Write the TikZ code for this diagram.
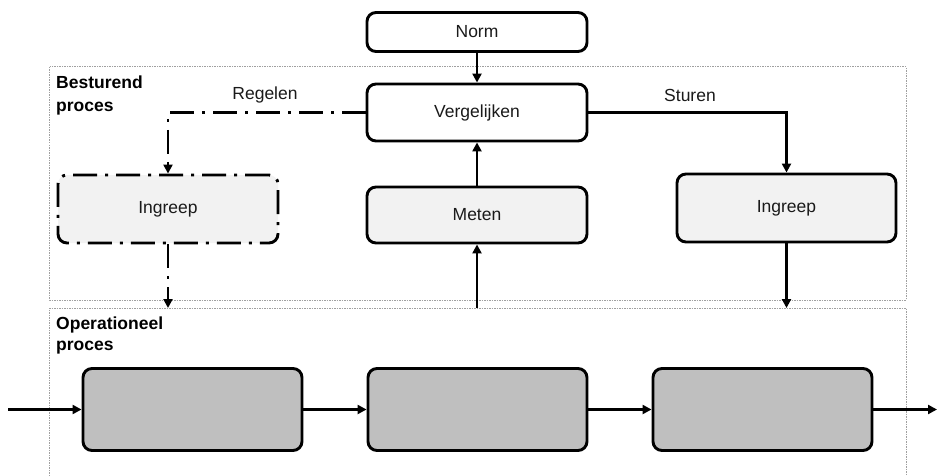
\documentclass[tikz,border=0pt]{standalone}
\usepackage{fontspec}
\setmainfont{Liberation Sans}
\usetikzlibrary{arrows.meta}
\definecolor{boxfill}{HTML}{F2F2F2}
\definecolor{opfill}{HTML}{BFBFBF}
\definecolor{framegray}{HTML}{A0A0A0}
\definecolor{txt}{HTML}{1A1A1A}
\begin{document}
\begin{tikzpicture}[x=1pt,y=-1pt,
  every node/.style={font=\fontsize{17.5}{21}\selectfont, text=txt},
  blockbox/.style={draw=black, line width=2.9pt, rounded corners=9pt, inner sep=0pt},
  lightbox/.style={blockbox, fill=boxfill},
  opbox/.style={blockbox, fill=opfill, minimum width=219pt, minimum height=82pt},
  framebox/.style={draw=framegray, line width=1pt, dash pattern=on 1.5pt off 1pt},
  flow/.style={draw=black, line width=2.5pt, -{Triangle[length=9pt,width=9pt]}},
  dashdotline/.style={dash pattern=on 24pt off 8pt on 3pt off 8pt},
  framelabel/.style={font=\fontsize{17.5}{21}\selectfont\bfseries, anchor=base west, inner sep=0pt, text=black},
  edgelabel/.style={inner sep=0pt}
]
\useasboundingbox (0,0) rectangle (937,476);
\fill[white] (0,0) rectangle (937,476);

% process frames
\draw[framebox] (49.5,67) rectangle (906,300);
\draw[framebox] (49.5,476) -- (49.5,308) -- (906,308) -- (906,476);
\node[framelabel] (lbB1) at (56,89) {Besturend};
\node[framelabel] (lbB2) at (56,112) {proces};
\node[framelabel] (lbO1) at (56,329) {Operationeel};
\node[framelabel] (lbO2) at (56,350) {proces};

% steering process
\node[blockbox, minimum width=220pt, minimum height=39pt] (norm) at (477,32) {Norm};
\node[blockbox, minimum width=220pt, minimum height=57pt] (verg) at (477,112.5) {Vergelijken};
\node[lightbox, minimum width=220pt, minimum height=56pt] (meten) at (477,215) {Meten};
\node[lightbox, minimum width=219pt, minimum height=68pt] (ingR) at (786.5,208) {Ingreep};
\node[lightbox, minimum width=220pt, minimum height=68pt, dashdotline] (ingL) at (168,209) {Ingreep};

% operational process
\node[opbox] (op1) at (192.5,409.5) {};
\node[opbox] (op2) at (477.5,409.5) {};
\node[opbox] (op3) at (762.5,409.5) {};

\coordinate (opInL) at (168,308);
\coordinate (opOut) at (477,308);
\coordinate (opInR) at (786.5,308);
\coordinate (src) at (8,409.5);
\coordinate (snk) at (937,409.5);

% connectors
\draw[flow] (norm) -- (verg);
\draw[flow] (meten) -- (verg);
\draw[flow] (opOut) -- (meten);
\draw[flow] (verg.east) -| (ingR.north);
\draw[flow] (ingR) -- (opInR);
\draw[flow, dashdotline] (verg.west) -| (ingL.north);
\draw[flow, dashdotline] (ingL) -- (opInL);
\draw[flow] (src) -- (op1);
\draw[flow] (op1) -- (op2);
\draw[flow] (op2) -- (op3);
\draw[flow] (op3) -- (snk);

\node[edgelabel] (regelen) at (265,95) {Regelen};
\node[edgelabel] (sturen) at (690,95) {Sturen};
\end{tikzpicture}
\end{document}
